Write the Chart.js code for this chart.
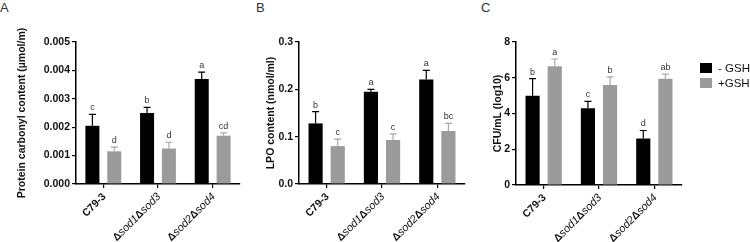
<!doctype html>
<html>
<head>
<title>Oxidative stress panels</title>
<script src="https://cdn.jsdelivr.net/npm/chart.js@4.4.0/dist/chart.umd.min.js"></script>
<style>
body { margin:0; background:#fff; width:750px; height:242px; position:relative; overflow:hidden; font-family: Arial, "Liberation Sans", sans-serif; }
canvas { position:absolute; top:0; }
.tag { position:absolute; top:0px; font-size:13px; color:#333; }
</style>
</head>
<body>
	<div class="tag" style="left:0px">A</div>
	<div class="tag" style="left:256px">B</div>
	<div class="tag" style="left:481px">C</div>
	<canvas id="cA" width="250" height="242" style="left:0px"></canvas>
	<canvas id="cB" width="230" height="242" style="left:250px"></canvas>
	<canvas id="cC" width="270" height="242" style="left:480px"></canvas>

	<script>
	var groups = ['C79-3', 'Δsod1Δsod3', 'Δsod2Δsod4'];
	var seriesNames = ['- GSH', '+GSH'];

	// A - protein carbonyl
	var carbonylMinus   = [0.00205, 0.0025, 0.0037];
	var carbonylMinusSd = [0.0004, 0.0002, 0.00024];
	var carbonylPlus    = [0.00115, 0.00125, 0.0017];
	var carbonylPlusSd  = [0.00015, 0.00022, 0.0001];
	var carbonylLetters = [['c', 'b', 'a'], ['d', 'd', 'cd']];
	var carbonylTicks   = [0, 0.001, 0.002, 0.003, 0.004, 0.005];

	// B - LPO
	var lpoMinus   = [0.128, 0.195, 0.221];
	var lpoMinusSd = [0.025, 0.005, 0.019];
	var lpoPlus    = [0.080, 0.093, 0.112];
	var lpoPlusSd  = [0.015, 0.013, 0.016];
	var lpoLetters = [['b', 'a', 'a'], ['c', 'c', 'bc']];
	var lpoTicks   = [0, 0.1, 0.2, 0.3];

	// C - CFU
	var cfuMinus   = [5.0, 4.3, 2.6];
	var cfuMinusSd = [0.95, 0.38, 0.45];
	var cfuPlus    = [6.65, 5.6, 5.95];
	var cfuPlusSd  = [0.4, 0.45, 0.25];
	var cfuLetters = [['b', 'c', 'd'], ['a', 'b', 'ab']];
	var cfuTicks   = [0, 2, 4, 6, 8];

	var FONT = 'Arial, "Liberation Sans", sans-serif';

	var errPlugin = {
		id: 'errBars',
		afterDatasetsDraw: function(chart) {
			var ctx = chart.ctx, y = chart.scales.y;
			chart.data.datasets.forEach(function(ds, di) {
				chart.getDatasetMeta(di).data.forEach(function(bar, i) {
					var top = y.getPixelForValue(ds.data[i] + ds.sd[i]);
					ctx.save();
					ctx.strokeStyle = ds.errColor;
					ctx.lineWidth = 1.2;
					ctx.beginPath();
					ctx.moveTo(bar.x, bar.y);
					ctx.lineTo(bar.x, top);
					ctx.moveTo(bar.x - 3.5, top);
					ctx.lineTo(bar.x + 3.5, top);
					ctx.stroke();
					ctx.fillStyle = '#333';
					ctx.font = '9px ' + FONT;
					ctx.textAlign = 'center';
					ctx.textBaseline = 'bottom';
					ctx.fillText(ds.letters[i], bar.x, top - 2);
					ctx.restore();
				});
			});
		}
	};

	// rotated group names, sod parts in italic
	var labelPlugin = {
		id: 'groupLabels',
		afterDraw: function(chart) {
			var ctx = chart.ctx, x = chart.scales.x;
			chart.data.labels.forEach(function(g, i) {
				var parts = g.split(/(Δ)/).filter(function(p) { return p.length; });
				var hasDelta = g.indexOf('Δ') >= 0;
				var fonts = parts.map(function(p) {
					return (!hasDelta || p === 'Δ') ? 'bold 10.5px ' + FONT : 'italic 11px ' + FONT;
				});
				var widths = parts.map(function(p, k) { ctx.font = fonts[k]; return ctx.measureText(p).width; });
				var total = widths.reduce(function(a, b) { return a + b; }, 0);
				ctx.save();
				ctx.translate(x.getPixelForValue(i) + 1, x.top + 11);
				ctx.rotate(-Math.PI / 4);
				ctx.fillStyle = '#111';
				ctx.textBaseline = 'middle';
				ctx.textAlign = 'left';
				var pos = -total;
				parts.forEach(function(p, k) {
					ctx.font = fonts[k];
					ctx.fillText(p, pos, 0);
					pos += widths[k];
				});
				ctx.restore();
			});
		}
	};

	var legendPlugin = {
		id: 'sideLegend',
		afterDraw: function(chart) {
			if (!chart.options.sideLegend) return;
			var ctx = chart.ctx;
			chart.data.datasets.forEach(function(ds, i) {
				var top = 63 + i * 15;
				ctx.fillStyle = ds.backgroundColor;
				ctx.fillRect(220, top, 12, 10);
				ctx.fillStyle = '#111';
				ctx.font = '11.5px ' + FONT;
				ctx.textBaseline = 'middle';
				ctx.fillText(ds.label, 238, top + 5.5);
			});
		}
	};

	function drawPanel(id, conf) {
		return new Chart(document.getElementById(id), {
			type: 'bar',
			data: {
				labels: groups,
				datasets: [{
					label: seriesNames[0],
					data: conf.minus, sd: conf.minusSd, letters: conf.letters[0],
					backgroundColor: '#000', borderColor: '#000', borderWidth: 0,
					errColor: '#000'
				}, {
					label: seriesNames[1],
					data: conf.plus, sd: conf.plusSd, letters: conf.letters[1],
					backgroundColor: '#9b9b9b', borderWidth: 0,
					errColor: '#a8a8a8'
				}]
			},
			options: {
				responsive: false,
				animation: false,
				sideLegend: conf.legend,
				layout: { padding: { top: 42, left: 0, right: conf.padRight, bottom: 0 } },
				plugins: { legend: { display: false }, tooltip: { enabled: false } },
				datasets: { bar: { categoryPercentage: 0.8, barPercentage: 0.64 } },
				scales: {
					x: {
						grid: { display: true, offset: false, drawOnChartArea: false, tickLength: 4, color: '#000', lineWidth: 1.2 },
						border: { color: '#000', width: 1.5 },
						ticks: { display: false },
						afterFit: function(s) { s.height = conf.xHeight; }
					},
					y: {
						min: 0, max: conf.max,
						afterBuildTicks: function(s) { s.ticks = conf.ticks.map(function(v) { return { value: v }; }); },
						ticks: {
							color: '#111', padding: 2,
							font: { family: FONT, size: 10.5, weight: 'bold' },
							callback: function(v) { return v.toFixed(conf.dec); }
						},
						grid: { drawOnChartArea: false, tickLength: 4, color: '#000', lineWidth: 1.2 },
						border: { color: '#000', width: 1.5 },
						title: {
							display: true, text: conf.title, color: '#111',
							font: { family: FONT, size: 10.5, weight: 'bold' },
							padding: { top: conf.titlePad, bottom: 0 }
						},
						afterFit: function(s) { s.width = conf.yWidth; }
					}
				}
			},
			plugins: [errPlugin, labelPlugin, legendPlugin]
		});
	}

	drawPanel('cA', {
		minus: carbonylMinus, minusSd: carbonylMinusSd, plus: carbonylPlus, plusSd: carbonylPlusSd,
		letters: carbonylLetters, ticks: carbonylTicks, max: 0.005, dec: 3,
		title: 'Protein carbonyl content (µmol/m)', titlePad: 15.5,
		yWidth: 76, xHeight: 58, padRight: 10, legend: false
	});
	drawPanel('cB', {
		minus: lpoMinus, minusSd: lpoMinusSd, plus: lpoPlus, plusSd: lpoPlusSd,
		letters: lpoLetters, ticks: lpoTicks, max: 0.3, dec: 1,
		title: 'LPO content (nmol/ml)', titlePad: 14.5,
		yWidth: 49, xHeight: 58, padRight: 15, legend: false
	});
	drawPanel('cC', {
		minus: cfuMinus, minusSd: cfuMinusSd, plus: cfuPlus, plusSd: cfuPlusSd,
		letters: cfuLetters, ticks: cfuTicks, max: 8, dec: 0,
		title: 'CFU/mL (log10)', titlePad: 11.5,
		yWidth: 36, xHeight: 57, padRight: 68, legend: true
	});
	</script>
</body>
</html>
